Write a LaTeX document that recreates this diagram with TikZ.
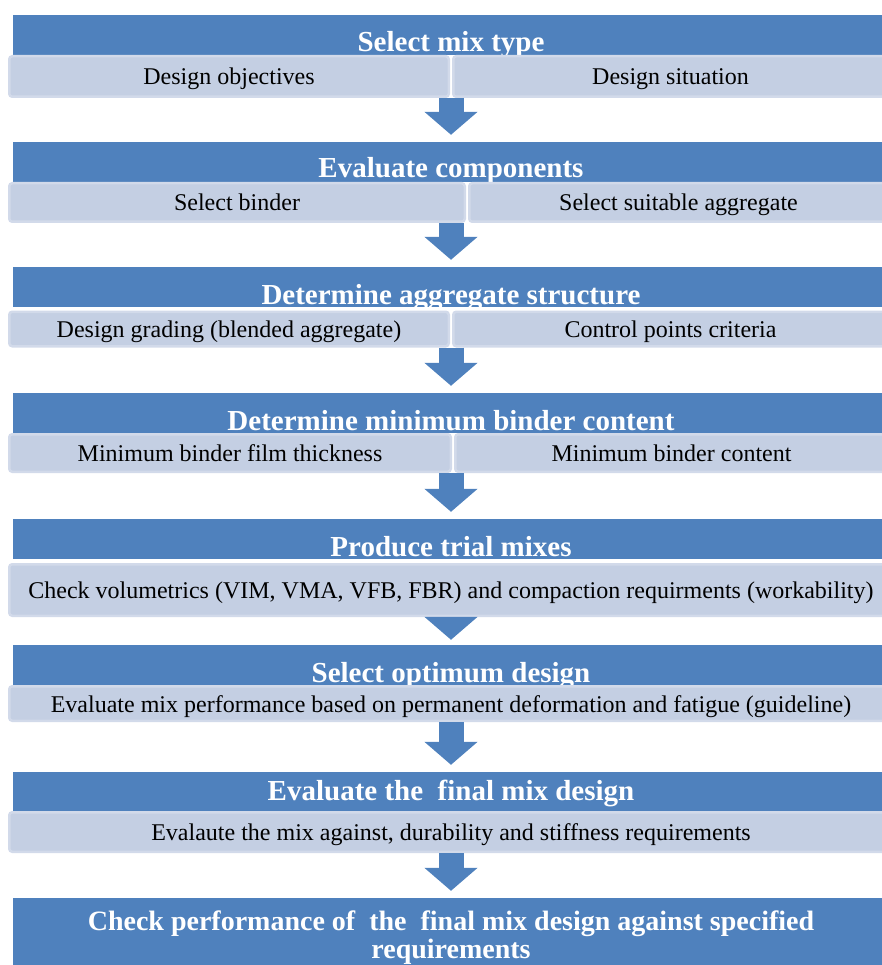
\documentclass[tikz,border=0pt]{standalone}
\usepackage{fontspec}
\setmainfont{Liberation Serif}
\usetikzlibrary{arrows.meta,calc}

\definecolor{hdblue}{HTML}{4F81BD}
\definecolor{barfill}{HTML}{C4CFE3}
\definecolor{barline}{HTML}{D2DAEA}

\tikzset{
    headbox/.style={fill=hdblue, text=white, font=\fontsize{29}{29}\selectfont\bfseries,
        minimum width=876pt, minimum height=40pt, inner sep=0pt, text height=37pt, text depth=3pt},
    lasthead/.style={fill=hdblue, text=white, font=\fontsize{28}{28}\selectfont\bfseries,
        minimum width=876pt, minimum height=80pt, inner sep=0pt, align=center},
    barbox/.style={fill=barfill, draw=barline, line width=2.5pt, rounded corners=3pt,
        font=\fontsize{24}{24}\selectfont, inner sep=0pt, text height=19pt, text depth=2pt},
    flowarrow/.style={draw=hdblue, line width=25pt, -{Triangle[width=52pt,length=23pt]}, shorten >=7pt}
}

\begin{document}
\begin{tikzpicture}[x=1pt, y=-1pt]
    \useasboundingbox (0,0) rectangle (882,965);
    \clip (0,0) rectangle (882,965);

    % headers
    \node[headbox] (hd1) at (451,35) {Select mix type};
    \node[headbox, text height=36pt, text depth=4pt] (hd2) at (451,162) {Evaluate components};
    \node[headbox] (hd3) at (451,287) {Determine aggregate structure};
    \node[headbox] (hd4) at (451,413) {Determine minimum binder content};
    \node[headbox] (hd5) at (451,539) {Produce trial mixes};
    \node[headbox, text height=37pt, text depth=3pt] (hd6) at (451,665) {Select optimum design};
    \node[headbox, text height=28pt, text depth=12pt] (hd7) at (451,792) {Evaluate the\ \ final mix design};
    \node[lasthead] (hd8) at (451,938) {Check performance of\ \ the\ \ final mix design against specified\\requirements};

    % sub steps
    \node[barbox, minimum width=439.5pt, minimum height=40.5pt] (b1l) at (229,76.5) {Design objectives};
    \node[barbox, minimum width=434.5pt, minimum height=40.5pt] (b1r) at (670.5,76.5) {Design situation};
    \node[barbox, minimum width=455.5pt, minimum height=38.5pt] (b2l) at (237,202.5) {Select binder};
    \node[barbox, minimum width=418.5pt, minimum height=38.5pt] (b2r) at (678.5,202.5) {Select suitable aggregate};
    \node[barbox, minimum width=439.5pt, minimum height=34.5pt] (b3l) at (229,329) {Design grading (blended aggregate)};
    \node[barbox, minimum width=434.5pt, minimum height=34.5pt] (b3r) at (670.5,329) {Control points criteria};
    \node[barbox, minimum width=441.5pt, minimum height=37.5pt] (b4l) at (230,453) {Minimum binder film thickness};
    \node[barbox, minimum width=432.5pt, minimum height=37.5pt] (b4r) at (671.5,453) {Minimum binder content};
    \node[barbox, minimum width=883.5pt, minimum height=51.5pt] (b5) at (451,590)
        {Check volumetrics (VIM, VMA, VFB, FBR) and compaction requirments (workability)};
    \node[barbox, minimum width=883.5pt, minimum height=34.5pt] (b6) at (451,703.5)
        {Evaluate mix performance based on permanent deformation and fatigue (guideline)};
    \node[barbox, minimum width=883.5pt, minimum height=39.5pt] (b7) at (451,832)
        {Evalaute the mix against, durability and stiffness requirements};

    % arrows
    \draw[flowarrow] (hd1.center |- b1l.south) -- (hd2.north);
    \draw[flowarrow] (hd2.center |- b2l.south) -- (hd3.north);
    \draw[flowarrow] (hd3.center |- b3l.south) -- (hd4.north);
    \draw[flowarrow] (hd4.center |- b4l.south) -- (hd5.north);
    \draw[flowarrow, shorten >=5pt] (hd5.center |- b5.south) -- (hd6.north);
    \draw[flowarrow] (hd6.center |- b6.south) -- (hd7.north);
    \draw[flowarrow] (hd7.center |- b7.south) -- (hd8.north);
\end{tikzpicture}
\end{document}
